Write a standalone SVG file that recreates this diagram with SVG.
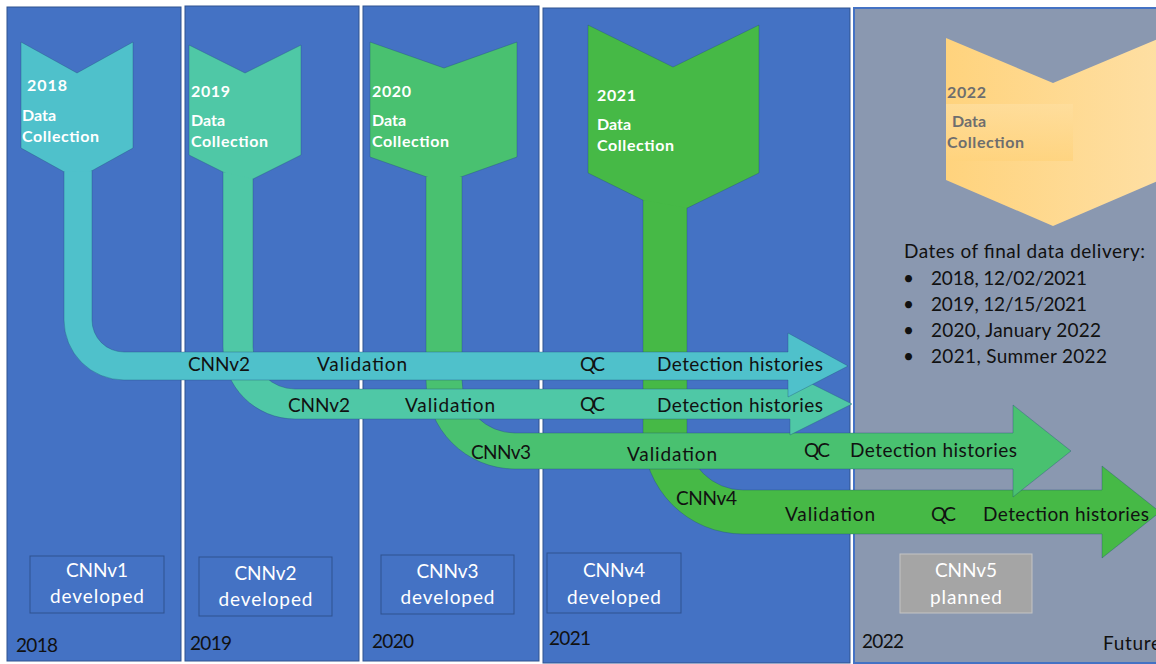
<svg xmlns="http://www.w3.org/2000/svg" width="1156" height="664" viewBox="0 0 1156 664">
<style>
.panel{fill:#4472C4;stroke:#2F528F;stroke-width:1}
.future{fill:#8A98B0;stroke:#4472C4;stroke-width:2}
.box{fill:#4472C4;stroke:#2F528F;stroke-width:1}
.shape{stroke:#1F4E79;stroke-opacity:.35;stroke-width:1}
.c1{fill:#4FC1CB}.c2{fill:#4FC8A6}.c3{fill:#49C170}.c4{fill:#46B946}
.ct{font-family:Lato,"Liberation Sans",sans-serif;font-weight:bold;font-size:16px;fill:#FFFFFF}
.ct5{fill:#6E6E6E}
.lbl{font-family:Lato,"Liberation Sans",sans-serif;font-size:19px;fill:#111111}
.bt{font-family:Lato,"Liberation Sans",sans-serif;font-size:19px;fill:#FFFFFF;text-anchor:middle}
</style>
<defs>
<linearGradient id="gold" x1="0" y1="0" x2="1" y2="0">
<stop offset="0" stop-color="#FFD37D"/>
<stop offset="1" stop-color="#FEDFA3"/>
</linearGradient>
<linearGradient id="goldbox" x1="0" y1="0" x2="0" y2="1">
<stop offset="0" stop-color="#FEDE9E"/>
<stop offset="1" stop-color="#FFD37D"/>
</linearGradient>
</defs>
<rect width="1156" height="664" fill="#FFFFFF"/>
<g id="panel-2018"><rect class="panel" x="7" y="7" width="174" height="654"/></g>
<g id="panel-2019"><rect class="panel" x="185" y="6" width="174" height="655"/></g>
<g id="panel-2020"><rect class="panel" x="363" y="6" width="176" height="655"/></g>
<g id="panel-2021"><rect class="panel" x="543" y="8" width="307" height="655"/></g>
<g id="panel-2022"><rect class="future" x="854" y="8" width="306" height="655"/></g>

<g id="box-cnnv1"><rect class="box" x="30" y="556" width="134" height="57"/><text class="bt" x="97" y="577" textLength="62">CNNv1</text><text class="bt" x="97" y="603" textLength="94">developed</text></g>
<g id="box-cnnv2"><rect class="box" x="199" y="557" width="133" height="59"/><text class="bt" x="265.5" y="580" textLength="62">CNNv2</text><text class="bt" x="265.5" y="606" textLength="94">developed</text></g>
<g id="box-cnnv3"><rect class="box" x="381" y="555" width="133" height="59"/><text class="bt" x="447.5" y="578" textLength="62">CNNv3</text><text class="bt" x="447.5" y="604" textLength="94">developed</text></g>
<g id="box-cnnv4"><rect class="box" x="547" y="553" width="134" height="60"/><text class="bt" x="614" y="577" textLength="62">CNNv4</text><text class="bt" x="614" y="604" textLength="94">developed</text></g>
<g id="box-cnnv5"><rect x="900" y="554" width="132" height="59" fill="#A5A5A5" stroke="#C4C4C4" stroke-width="1"/><text class="bt" x="966" y="577" textLength="62">CNNv5</text><text class="bt" x="966" y="604" textLength="72">planned</text></g>

<g id="year-labels">
<text class="lbl" x="16" y="652" textLength="42">2018</text>
<text class="lbl" x="190" y="650" textLength="42">2019</text>
<text class="lbl" x="372" y="648" textLength="42">2020</text>
<text class="lbl" x="549" y="645" textLength="42">2021</text>
<text class="lbl" x="862" y="648" textLength="42">2022</text>
<text class="lbl" x="1103" y="650" textLength="58">Future</text>
</g>

<g id="chevron-2018"><polygon class="shape c1" points="21,42 77,73 133,42 133,148 77,179 21,148"/></g>
<g id="chevron-2019"><polygon class="shape c2" points="189,45 245,73 301,45 301,155 245,183 189,155"/></g>
<g id="chevron-2020"><polygon class="shape c3" points="370,42 444,68 517,42 517,157 444,183 370,157"/></g>
<g id="chevron-2021"><polygon class="shape c4" points="588,25 673,67 759,25 759,173 673,215 588,173"/></g>
<g id="chevron-2022">
<polygon points="946,38 1053,83 1160,38 1160,180 1053,226 946,180" fill="url(#gold)"/>
<rect x="946" y="104" width="127" height="57" fill="url(#goldbox)" opacity="0.8"/>
</g>

<g id="connectors">
<path class="shape c4" d="M687,208 L687,434 A56,56 0 0 0 743,490 L1102,490 L1102,466 L1160,512 L1102,558 L1102,534 L743,534 A100,100 0 0 1 643,434 L643,200"/>
<path class="shape c3" d="M462,177 L462,380 A53,53 0 0 0 515,433 L1013,433 L1013,405 L1071,451 L1013,497 L1013,469 L515,469 A89,89 0 0 1 426,380 L426,177"/>
<path class="shape c2" d="M253,179 L253,347 A42,42 0 0 0 295,389 L790,389 L790,373 L852,404 L790,435 L790,419 L295,419 A72,72 0 0 1 223,347 L223,172"/>
<path class="shape c1" d="M92,171 L92,320 A32,32 0 0 0 124,352 L788,352 L788,333 L848,366 L788,397 L788,380 L124,380 A60,60 0 0 1 64,320 L64,172"/>
<text class="lbl" x="188" y="371" textLength="62">CNNv2</text>
<text class="lbl" x="317" y="371" textLength="90">Validation</text>
<text class="lbl" x="580" y="371" textLength="25">QC</text>
<text class="lbl" x="657" y="371" textLength="166">Detection histories</text>
<text class="lbl" x="288" y="412" textLength="62">CNNv2</text>
<text class="lbl" x="405" y="412" textLength="90">Validation</text>
<text class="lbl" x="580" y="411" textLength="25">QC</text>
<text class="lbl" x="657" y="412" textLength="166">Detection histories</text>
<text class="lbl" x="471" y="459" textLength="60">CNNv3</text>
<text class="lbl" x="627" y="461" textLength="90">Validation</text>
<text class="lbl" x="804" y="457" textLength="26">QC</text>
<text class="lbl" x="850" y="457" textLength="167">Detection histories</text>
<text class="lbl" x="676" y="505" textLength="61">CNNv4</text>
<text class="lbl" x="785" y="521" textLength="90">Validation</text>
<text class="lbl" x="931" y="521" textLength="25">QC</text>
<text class="lbl" x="983" y="521" textLength="166">Detection histories</text>
</g>

<g id="chevron-labels">
<text class="ct" x="27" y="91" textLength="40">2018</text>
<text class="ct" x="22" y="121" textLength="34">Data</text>
<text class="ct" x="22" y="142" textLength="77">Collection</text>
<text class="ct" x="191" y="97" textLength="39">2019</text>
<text class="ct" x="191" y="126" textLength="34">Data</text>
<text class="ct" x="191" y="147" textLength="77">Collection</text>
<text class="ct" x="372" y="97" textLength="39">2020</text>
<text class="ct" x="372" y="126" textLength="34">Data</text>
<text class="ct" x="372" y="147" textLength="77">Collection</text>
<text class="ct" x="597" y="101" textLength="39">2021</text>
<text class="ct" x="597" y="130" textLength="34">Data</text>
<text class="ct" x="597" y="151" textLength="77">Collection</text>
<text class="ct ct5" x="947" y="98" textLength="39">2022</text>
<text class="ct ct5" x="952" y="127" textLength="34">Data</text>
<text class="ct ct5" x="947" y="148" textLength="77">Collection</text>
</g>

<g id="delivery-dates">
<text class="lbl" x="904" y="258" textLength="241">Dates of final data delivery:</text>
<text class="lbl" x="903" y="285">•</text>
<text class="lbl" x="931" y="285" textLength="156">2018, 12/02/2021</text>
<text class="lbl" x="903" y="311">•</text>
<text class="lbl" x="931" y="311" textLength="156">2019, 12/15/2021</text>
<text class="lbl" x="903" y="337">•</text>
<text class="lbl" x="931" y="337" textLength="170">2020, January 2022</text>
<text class="lbl" x="903" y="363">•</text>
<text class="lbl" x="931" y="363" textLength="176">2021, Summer 2022</text>
</g>
</svg>
